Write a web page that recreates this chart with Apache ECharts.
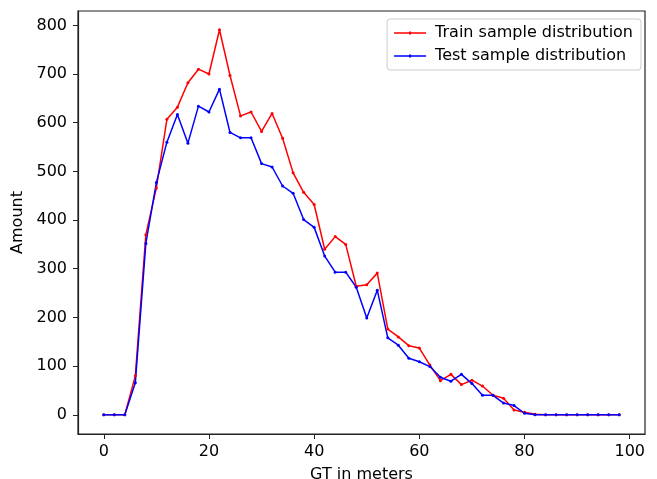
<!DOCTYPE html>
<html>
<head>
<meta charset="utf-8">
<script src="https://cdn.jsdelivr.net/npm/echarts@6/dist/echarts.min.js"></script>
<style>html,body{margin:0;padding:0;background:#fff}#c{width:657px;height:479px}</style>
</head>
<body>
<div id="c"></div>
<script>
const distances = [0,2,4,6,8,10,12,14,16,18,20,22,24,26,28,30,32,34,36,38,40,42,44,46,48,50,52,54,56,58,60,62,64,66,68,70,72,74,76,78,80,82,84,86,88,90,92,94,96,98];
const trainValues = [0,0,0,80,370,466,607,632,682,710,700,791,697,614,622,582,619,568,497,457,432,340,366,350,264,267,291,176,160,142,137,102,70,83,62,71,59,40,34,10,5,1,0,0,0,0,0,0,0,0];
const testValues = [0,0,0,66,352,477,560,617,558,634,622,669,580,569,569,516,509,470,455,401,385,326,293,293,262,199,256,158,143,116,109,99,77,69,83,64,40,40,24,19,3,0,0,0,0,0,0,0,0,0];
const xTicks = [0,20,40,60,80,100];
const yTicks = [0,100,200,300,400,500,600,700,800];

const font = 'DejaVu Sans';
const legendIcon = 'path://M0,4.3 H32 V5.7 H0 Z M15,3.5 H17 V6.5 H15 Z';
const chart = echarts.init(document.getElementById('c'), null, {renderer:'canvas'});
chart.setOption({
  animation: false,
  backgroundColor: '#fff',
  grid: {left: 78, right: 12, top: 11, bottom: 45, show: true, borderColor: '#222', borderWidth: 1.2,
         backgroundColor: 'transparent', containLabel: false, outerBoundsMode: 'none'},
  legend: {
    orient: 'vertical', right: 16, top: 19,
    backgroundColor: 'rgba(255,255,255,0.8)',
    borderColor: '#ccc', borderWidth: 1, borderRadius: 3,
    padding: [5, 8, 5, 7], itemGap: 5, itemWidth: 32, itemHeight: 10,
    icon: legendIcon,
    textStyle: {fontFamily: font, fontSize: 16, color: '#000', padding: [0,0,0,4], lineHeight: 18},
    data: ['Train sample distribution', 'Test sample distribution']
  },
  xAxis: {
    type: 'value', min: -4.9, max: 102.9,
    name: 'GT in meters', nameLocation: 'middle', nameGap: 33,
    nameTextStyle: {fontFamily: font, fontSize: 16, color: '#000'},
    axisLine: {show: true, onZero: false, lineStyle: {color: '#222', width: 1.2}},
    axisTick: {show: true, length: 5, inside: false, customValues: xTicks, lineStyle: {color: '#222', width: 1}},
    axisLabel: {customValues: xTicks, fontFamily: font, fontSize: 16, color: '#000', margin: 10},
    splitLine: {show: false}
  },
  yAxis: {
    type: 'value', min: -39.5, max: 829.5,
    name: 'Amount', nameLocation: 'middle', nameGap: 52, nameRotate: 90,
    nameTextStyle: {fontFamily: font, fontSize: 16, color: '#000'},
    axisLine: {show: true, onZero: false, lineStyle: {color: '#222', width: 1.2}},
    axisTick: {show: true, length: 5, inside: false, customValues: yTicks, lineStyle: {color: '#222', width: 1}},
    axisLabel: {customValues: yTicks, fontFamily: font, fontSize: 16, color: '#000', margin: 11},
    splitLine: {show: false}
  },
  series: [
    {
      name: 'Train sample distribution', type: 'line',
      data: distances.map((d, i) => [d, trainValues[i]]),
      symbol: 'circle', symbolSize: 3, showAllSymbol: true,
      lineStyle: {color: '#ff0000', width: 1.5}, itemStyle: {color: '#ff0000'},
      emphasis: {disabled: true}
    },
    {
      name: 'Test sample distribution', type: 'line',
      data: distances.map((d, i) => [d, testValues[i]]),
      symbol: 'circle', symbolSize: 3, showAllSymbol: true,
      lineStyle: {color: '#0000ff', width: 1.5}, itemStyle: {color: '#0000ff'},
      emphasis: {disabled: true}
    }
  ]
});
</script>
</body>
</html>
